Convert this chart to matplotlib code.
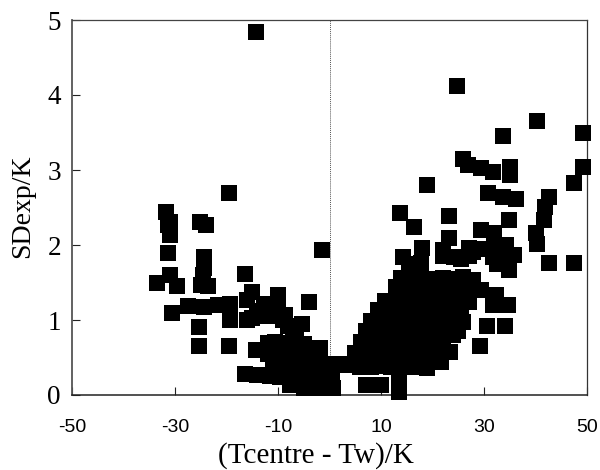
import matplotlib
matplotlib.use('Agg')
import matplotlib.pyplot as plt

# values: sparse left branch, sparse right side, then the two dense clumps
left_x = [-33.5, -31, -29.6, -31.3, -30.5, -27.4, -24.3, -25.3, -25.3, -19.6, -19.4, -21.6, -19.3,
          -24.3, -24.3, -24.5, -25, -23.5, -16.5, -15, -16, -16, -15, -12.8, -10, -8.6, -5.3,
          -3.9, -7, -14.2, -19.5, -31.7, -31, -25.1, -24, -31.3, -31, -1.4,
          -13, -11, -10, -14, -9, -8, -6.5]
left_y = [1.5, 1.6, 1.45, 1.89, 1.09, 1.19, 1.17, 0.91, 0.65, 0.65, 1.0, 1.2, 1.22,
          1.84, 1.7, 1.6, 1.47, 1.45, 1.61, 1.37, 1.27, 1.0, 1.03, 1.22, 1.33, 1.07, 0.95,
          1.24, 0.83, 4.84, 2.7, 2.44, 2.31, 2.31, 2.27, 2.27, 2.13, 1.93,
          1.05, 1.05, 1.2, 1.12, 1.0, 0.92, 0.78]

right_x = [24.7, 33.7, 40.3, 49.2, 49.2, 47.5, 25.9, 26.8, 29.4, 31.7, 35, 35, 18.9, 30.7, 33.7, 36.2,
           42.6, 41.8, 41.6, 13.6, 16.5, 23.3, 34.8, 29.4, 31.9, 40, 40.2, 42.6, 47.5, 23.3, 17.9,
           14.2, 22, 24.1, 27, 27.8, 31.7, 31.9, 34.2, 35.8, 34.8, 33.8, 13.8, 17.7, 17.7, 27.8, 29.4,
           32.3, 31.7, 34.6, 30.6, 34, 29.2, 13.4, 13.4, 10, 7,
           15.5, 16.5, 22, 25.5, 27, 30, 32.5]
right_y = [4.12, 3.45, 3.65, 3.49, 3.04, 2.83, 3.15, 3.07, 3.03, 2.97, 3.04, 2.93, 2.8, 2.7, 2.64, 2.61,
           2.64, 2.51, 2.33, 2.43, 2.24, 2.39, 2.33, 2.2, 2.16, 2.16, 2.02, 1.76, 1.76, 2.1, 1.96,
           1.84, 1.93, 1.84, 1.96, 1.91, 1.84, 1.96, 2.0, 1.87, 1.67, 1.8, 1.56, 1.76, 1.6, 1.53, 1.4,
           1.33, 1.2, 1.2, 0.92, 0.92, 0.65, 0.04, 0.16, 0.13, 0.13,
           1.75, 1.7, 1.85, 1.82, 1.86, 1.95, 1.75]

low_x = [-16.4, -14, -11.5, -9.6, -7.6, -6, -5, -2.8, -1, 0.6, -9, -7, -5, -3, -1, 0.5,
         -11, -9, -7, -5, -3, -1, 1, 3, -14.2, -12, -10, -8, -6, -4, -1.9, -12, -10.5, -9, -7, -5]
low_y = [0.28, 0.27, 0.25, 0.24, 0.13, 0.13, 0.1, 0.1, 0.1, 0.1, 0.25, 0.27, 0.24, 0.26, 0.24, 0.25,
         0.4, 0.42, 0.39, 0.41, 0.4, 0.42, 0.42, 0.42, 0.6, 0.55, 0.56, 0.54, 0.57, 0.55, 0.63, 0.7, 0.71, 0.69, 0.7, 0.68]

dense_x = [3.5, 6, 8, 10, 12, 14, 16, 18, 19, 21.6,
           5, 7, 9, 11, 13, 15, 17, 19, 21, 23.4,
           6.2, 8, 10, 12, 14, 16, 18, 20, 22, 24,
           7, 9, 11, 13, 15, 17, 19, 21, 23, 25,
           8, 10, 12, 14, 16, 18, 20, 22, 24, 26,
           9.5, 11.5, 13.5, 15.5, 17.5, 19.5, 21.5, 23.5, 25.5, 27,
           10.8, 13, 15, 17, 19, 21, 23, 25, 27,
           13, 15, 17, 19, 21, 23, 25, 27, 15, 17.5, 20, 22, 24, 26]
dense_y = [0.4, 0.38, 0.37, 0.39, 0.38, 0.37, 0.38, 0.39, 0.36, 0.44,
           0.56, 0.55, 0.54, 0.56, 0.55, 0.54, 0.56, 0.55, 0.54, 0.57,
           0.71, 0.7, 0.72, 0.7, 0.69, 0.71, 0.7, 0.72, 0.7, 0.8,
           0.85, 0.84, 0.86, 0.85, 0.84, 0.86, 0.85, 0.84, 0.86, 0.85,
           0.99, 1.0, 1.01, 0.99, 1.0, 1.01, 1.0, 0.99, 1.0, 0.97,
           1.14, 1.15, 1.16, 1.14, 1.15, 1.16, 1.15, 1.14, 1.15, 1.24,
           1.25, 1.3, 1.29, 1.31, 1.3, 1.29, 1.31, 1.3, 1.29,
           1.44, 1.45, 1.46, 1.44, 1.45, 1.46, 1.45, 1.44, 1.56, 1.57, 1.55, 1.56, 1.55, 1.57]

x_ticks = [-50, -30, -10, 10, 30, 50]
y_ticks = [0, 1, 2, 3, 4, 5]

plt.rcParams['font.family'] = ['Liberation Sans', 'DejaVu Sans']
plt.rcParams['axes.unicode_minus'] = False

fig = plt.figure(figsize=(6, 4.7), dpi=100)
ax = fig.add_axes([72 / 600, 1 - 395 / 470, 515 / 600, 375 / 470])

for xs, ys in [(left_x, left_y), (right_x, right_y), (low_x, low_y), (dense_x, dense_y)]:
    ax.scatter(xs, ys, s=122, marker='s', color='black', linewidths=0, clip_on=False, zorder=3)

ax.axvline(0, color='#555555', linestyle=(0, (1, 1)), linewidth=0.7, zorder=1)

ax.set_xlim(-50, 50)
ax.set_ylim(0, 5)
ax.set_xticks(x_ticks)
ax.set_yticks(y_ticks)
ax.tick_params(axis='both', direction='in', length=6, width=0.8, color='#222222')
ax.tick_params(axis='x', labelsize=14, pad=17)
ax.tick_params(axis='y', labelsize=19.5, pad=8)
for lab in ax.get_yticklabels():
    lab.set_family('Liberation Serif')
for side, w, c in [('left', 1.3, '#555555'), ('bottom', 1.1, '#222222'), ('right', 0.9, '#333333'), ('top', 0.9, '#444444')]:
    ax.spines[side].set_linewidth(w)
    ax.spines[side].set_color(c)

fig.text(316 / 600, 1 - 456 / 470, '(Tcentre - Tw)/K', family='Liberation Serif', fontsize=21, ha='center', va='center')
fig.text(23 / 600, 1 - 206 / 470, 'SDexp/K', family='Liberation Serif', fontsize=20, rotation=90, ha='center', va='center')

fig.savefig('out.png', dpi=100)
